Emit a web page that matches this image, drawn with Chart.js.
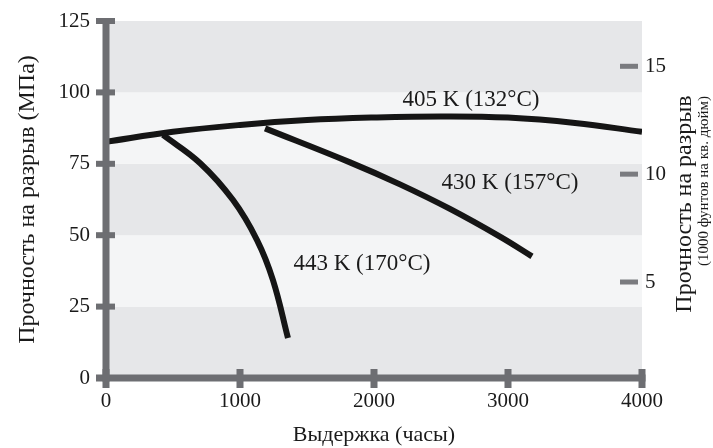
<!DOCTYPE html>
<html>
<head>
<meta charset="utf-8">
<script src="https://cdn.jsdelivr.net/npm/chart.js@4/dist/chart.umd.min.js"></script>
<style>
html, body { margin: 0; padding: 0; background: #fff; }
#wrap { width: 713px; height: 448px; }
</style>
</head>
<body>
<div id="wrap"><canvas id="chart" width="713" height="448"></canvas></div>
<script>
// curves (hours, MPa)
hours_405 = [0, 500, 1000, 1500, 2000, 2500, 3000, 3500, 4000];
mpa_405 = [82.7, 86.2, 88.6, 90.3, 91.2, 91.6, 91.2, 89.3, 86.2];

hours_430 = [1187, 1821, 2194, 2567, 2940, 3179];
mpa_430 = [87.4, 75.5, 67.8, 59.2, 49.5, 42.6];

hours_443 = [425, 701, 948, 1127, 1246, 1358];
mpa_443 = [85.1, 75.3, 62.3, 48.3, 34.3, 14.0];

// tick labels
hour_ticks = [0, 1000, 2000, 3000, 4000];
mpa_ticks = [0, 25, 50, 75, 100, 125];
ksi_ticks = [5, 10, 15];

// curve labels (text, anchor in data units)
curve_labels = ['405 K (132°C)', '430 K (157°C)', '443 K (170°C)'];
curve_label_hours = [2724, 3015, 1910];
curve_label_mpa = [97.3, 68.3, 39.9];

var SERIF = '"Liberation Serif", "DejaVu Serif", serif';
var AXIS_GREY = '#6d6e72';
var TEXT = '#1a1a1a';

function points(xs, ys) {
    return xs.map(function(x, i) { return {x: x, y: ys[i]}; });
}

function curve(xs, ys) {
    return {
        data: points(xs, ys),
        borderColor: '#151515',
        borderWidth: 6,
        borderCapStyle: 'butt',
        pointRadius: 0,
        tension: 0.4,
        fill: false
    };
}

// no extra label padding around the plot, the frame is fixed
function noPadding(s) {
    s.paddingTop = 0;
    s.paddingBottom = 0;
    s.paddingLeft = 0;
    s.paddingRight = 0;
}

// alternating grey bands behind the plot
var bandsPlugin = {
    id: 'bands',
    beforeDatasetsDraw: function(chart) {
        var ctx = chart.ctx;
        var y = chart.scales.y;
        var x = chart.scales.x;
        var left = x.getPixelForValue(0);
        var right = x.getPixelForValue(4000);
        for (var i = 0; i < mpa_ticks.length - 1; i++) {
            var top = y.getPixelForValue(mpa_ticks[i + 1]);
            var bottom = y.getPixelForValue(mpa_ticks[i]);
            ctx.fillStyle = (i % 2 == 0) ? '#e6e7e9' : '#f4f5f6';
            ctx.fillRect(left, top, right - left, bottom - top);
        }
    }
};

// thick axes with crossing tick marks, right-hand ticks, labels, right title
var axesPlugin = {
    id: 'axes',
    afterDatasetsDraw: function(chart) {
        var ctx = chart.ctx;
        var x = chart.scales.x;
        var y = chart.scales.y;
        var y2 = chart.scales.y2;
        var x0 = x.getPixelForValue(0);
        var x4 = x.getPixelForValue(4000);
        var yTop = y.getPixelForValue(125);
        var y0 = y.getPixelForValue(0);

        ctx.save();
        ctx.fillStyle = AXIS_GREY;
        ctx.fillRect(x0 - 3.5, yTop - 3, 7, y0 - yTop + 6.5);
        ctx.fillRect(x0 - 10, y0 - 3.5, x4 + 3.5 - (x0 - 10), 7);

        mpa_ticks.forEach(function(v) {
            var py = y.getPixelForValue(v);
            ctx.fillRect(x0 - 10, py - 3, 19, 6);
        });
        hour_ticks.forEach(function(v) {
            var px = x.getPixelForValue(v);
            ctx.fillRect(px - 3.5, y0 - 9, 7, 19);
        });

        ctx.fillStyle = '#7a7b7f';
        ksi_ticks.forEach(function(v) {
            var py = y2.getPixelForValue(v);
            ctx.fillRect(x4 - 22, py - 2.5, 18, 5);
        });

        // curve labels
        ctx.fillStyle = TEXT;
        ctx.font = '23px ' + SERIF;
        ctx.textAlign = 'center';
        ctx.textBaseline = 'middle';
        curve_labels.forEach(function(t, i) {
            ctx.fillText(t, x.getPixelForValue(curve_label_hours[i]), y.getPixelForValue(curve_label_mpa[i]));
        });

        // right axis title, reading bottom to top
        ctx.translate(685, 204);
        ctx.rotate(-Math.PI / 2);
        ctx.font = '24px ' + SERIF;
        ctx.fillText('Прочность на разрыв', 0, 0);
        ctx.font = '15px ' + SERIF;
        ctx.fillText('(1000 фунтов на кв. дюйм)', 23, 19);
        ctx.restore();
    }
};

var tickFont = {family: SERIF, size: 21};
var titleFont = {family: SERIF, size: 24};

var chart = new Chart(document.getElementById('chart'), {
    type: 'line',
    data: {
        datasets: [
            curve(hours_405, mpa_405),
            curve(hours_430, mpa_430),
            curve(hours_443, mpa_443)
        ]
    },
    options: {
        responsive: false,
        animation: false,
        layout: {padding: {top: 21, left: 0, right: 0, bottom: 0}},
        plugins: {
            legend: {display: false},
            tooltip: {enabled: false}
        },
        scales: {
            x: {
                type: 'linear',
                position: 'bottom',
                min: 0,
                max: 4000,
                afterFit: function(s) { s.height = 70; noPadding(s); },
                afterBuildTicks: function(s) {
                    s.ticks = hour_ticks.map(function(v) { return {value: v}; });
                },
                grid: {display: false, drawTicks: false},
                border: {display: false},
                ticks: {font: tickFont, color: TEXT, padding: 11, maxRotation: 0,
                        callback: function(v) { return String(v); }},
                title: {display: true, text: 'Выдержка (часы)', font: {family: SERIF, size: 22},
                        color: TEXT, padding: {top: 0, bottom: 0}}
            },
            y: {
                type: 'linear',
                position: 'left',
                min: 0,
                max: 125,
                afterFit: function(s) { s.width = 106; noPadding(s); },
                afterBuildTicks: function(s) {
                    s.ticks = mpa_ticks.map(function(v) { return {value: v}; });
                },
                grid: {display: false, drawTicks: false},
                border: {display: false},
                ticks: {font: tickFont, color: TEXT, padding: 16},
                title: {display: true, text: 'Прочность на разрыв (МПа)', font: titleFont, color: TEXT,
                        padding: {top: 13, bottom: 0}}
            },
            y2: {
                type: 'linear',
                position: 'right',
                min: 0.55,
                max: 17.1,
                afterFit: function(s) { s.width = 71; noPadding(s); },
                afterBuildTicks: function(s) {
                    s.ticks = ksi_ticks.map(function(v) { return {value: v}; });
                },
                grid: {display: false, drawTicks: false},
                border: {display: false},
                ticks: {font: tickFont, color: TEXT, padding: 3}
            }
        }
    },
    plugins: [bandsPlugin, axesPlugin]
});
</script>
</body>
</html>
